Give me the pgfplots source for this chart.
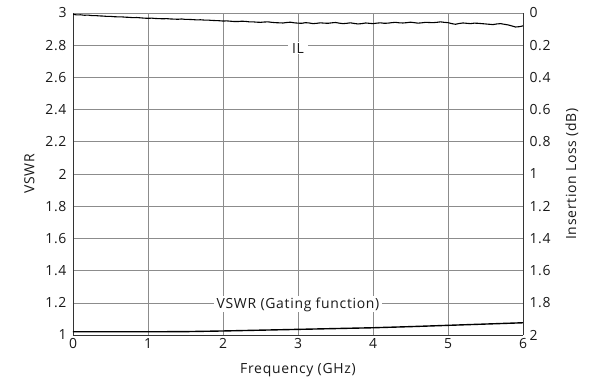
\documentclass[border=0pt]{standalone}
\usepackage{fontspec}
\setmainfont{Open Sans}[LetterSpace=5]
\usepackage{pgfplots}
\pgfplotsset{compat=1.18}
\begin{document}
\begin{tikzpicture}
\pgfplotsset{
  common/.style={
    scale only axis, width=450bp, height=322bp,
    at={(0,0)}, anchor=south west,
    xmin=0, xmax=6,
    /pgf/number format/assume math mode=true,
    ticklabel style={font=\fontsize{14}{16}\selectfont, text=black!90},
    label style={font=\fontsize{14}{16}\selectfont, text=black!90},
    major tick length=0pt,
    axis line style={black!80, line width=0.8pt},
  }
}
\begin{axis}[common,
  ymin=1, ymax=3,
  xtick={0,1,...,6},
  ytick={1,1.2,...,3.01},
  yticklabels={1,1.2,1.4,1.6,1.8,2,2.2,2.4,2.6,2.8,3},
  yticklabel style={xshift=-3bp},
  grid=major,
  grid style={black!45, line width=0.6pt},
  xlabel={Frequency (GHz)},
  ylabel={VSWR},
  xlabel style={yshift=-8bp},
  ylabel style={yshift=4bp},
  axis y line*=left,
  axis x line*=bottom,
  clip=false,
]
\addplot[black, line width=1.4pt] coordinates {
(0,1.020) (0.5,1.020) (1,1.020) (1.5,1.021) (2,1.025) (2.5,1.030) (3,1.035)
(3.5,1.040) (4,1.045) (4.5,1.052) (5,1.060) (5.5,1.068) (6,1.076)};
\node[fill=white, inner xsep=3bp, inner ysep=1bp, font=\fontsize{14}{16}\selectfont, text=black!90] at (axis cs:3,1.19) {VSWR (Gating function)};
\node[fill=white, inner xsep=4bp, inner ysep=1bp, font=\fontsize{14}{16}\selectfont, text=black!90] at (axis cs:3,2.78) {IL};
\end{axis}
\begin{axis}[common,
  ymin=0, ymax=2, y dir=reverse,
  ytick={0,0.2,...,2.01},
  yticklabels={0,0.2,0.4,0.6,0.8,1,1.2,1.4,1.6,1.8,2},
  yticklabel style={xshift=3bp},
  axis y line*=right,
  axis x line=none,
  ylabel={Insertion Loss (dB)},
  ylabel style={yshift=-8bp},
]
\addplot[black, line width=1.1pt] coordinates {
(0,0.008) (0.05,0.012) (0.1,0.011) (0.15,0.014) (0.2,0.013) (0.25,0.016) (0.3,0.016) (0.35,0.018)
(0.4,0.019) (0.45,0.021) (0.5,0.021) (0.55,0.023) (0.6,0.024) (0.65,0.024) (0.7,0.026) (0.75,0.027)
(0.8,0.029) (0.85,0.028) (0.9,0.030) (0.95,0.032) (1.0,0.033) (1.05,0.032) (1.1,0.034) (1.15,0.035)
(1.2,0.036) (1.25,0.035) (1.3,0.037) (1.35,0.038) (1.4,0.039) (1.45,0.037) (1.5,0.040) (1.55,0.040)
(1.6,0.041) (1.65,0.043) (1.7,0.042) (1.75,0.044) (1.8,0.044) (1.85,0.046) (1.9,0.047) (1.95,0.048)
(2.0,0.050) (2.05,0.049) (2.1,0.051) (2.15,0.053) (2.2,0.053) (2.25,0.051) (2.3,0.052) (2.35,0.055)
(2.4,0.055) (2.45,0.057) (2.5,0.058) (2.55,0.056) (2.6,0.055) (2.65,0.058) (2.7,0.060) (2.75,0.061)
(2.8,0.062) (2.85,0.059) (2.9,0.057) (2.95,0.061) (3.0,0.063) (3.05,0.064) (3.1,0.060) (3.15,0.062)
(3.2,0.066) (3.25,0.064) (3.3,0.061) (3.35,0.063) (3.4,0.064) (3.45,0.061) (3.5,0.059) (3.55,0.063)
(3.6,0.066) (3.65,0.064) (3.7,0.061) (3.75,0.065) (3.8,0.068) (3.85,0.066) (3.9,0.062) (3.95,0.064)
(4.0,0.066) (4.05,0.063) (4.1,0.061) (4.15,0.064) (4.2,0.063) (4.25,0.060) (4.3,0.058) (4.35,0.061)
(4.4,0.062) (4.45,0.060) (4.5,0.057) (4.55,0.060) (4.6,0.063) (4.65,0.061) (4.7,0.058) (4.75,0.059)
(4.8,0.060) (4.85,0.058) (4.9,0.055) (4.95,0.058) (5.0,0.060) (5.05,0.066) (5.1,0.070) (5.15,0.065)
(5.2,0.062) (5.25,0.064) (5.3,0.066) (5.35,0.063) (5.4,0.064) (5.45,0.066) (5.5,0.068) (5.55,0.070)
(5.6,0.072) (5.65,0.068) (5.7,0.066) (5.75,0.070) (5.8,0.074) (5.85,0.080) (5.9,0.087) (5.95,0.085)
(6.0,0.080)};
\end{axis}
\pgfresetboundingbox
\path[use as bounding box] (-73bp,-45bp) rectangle (527bp,335bp);
\end{tikzpicture}
\end{document}
